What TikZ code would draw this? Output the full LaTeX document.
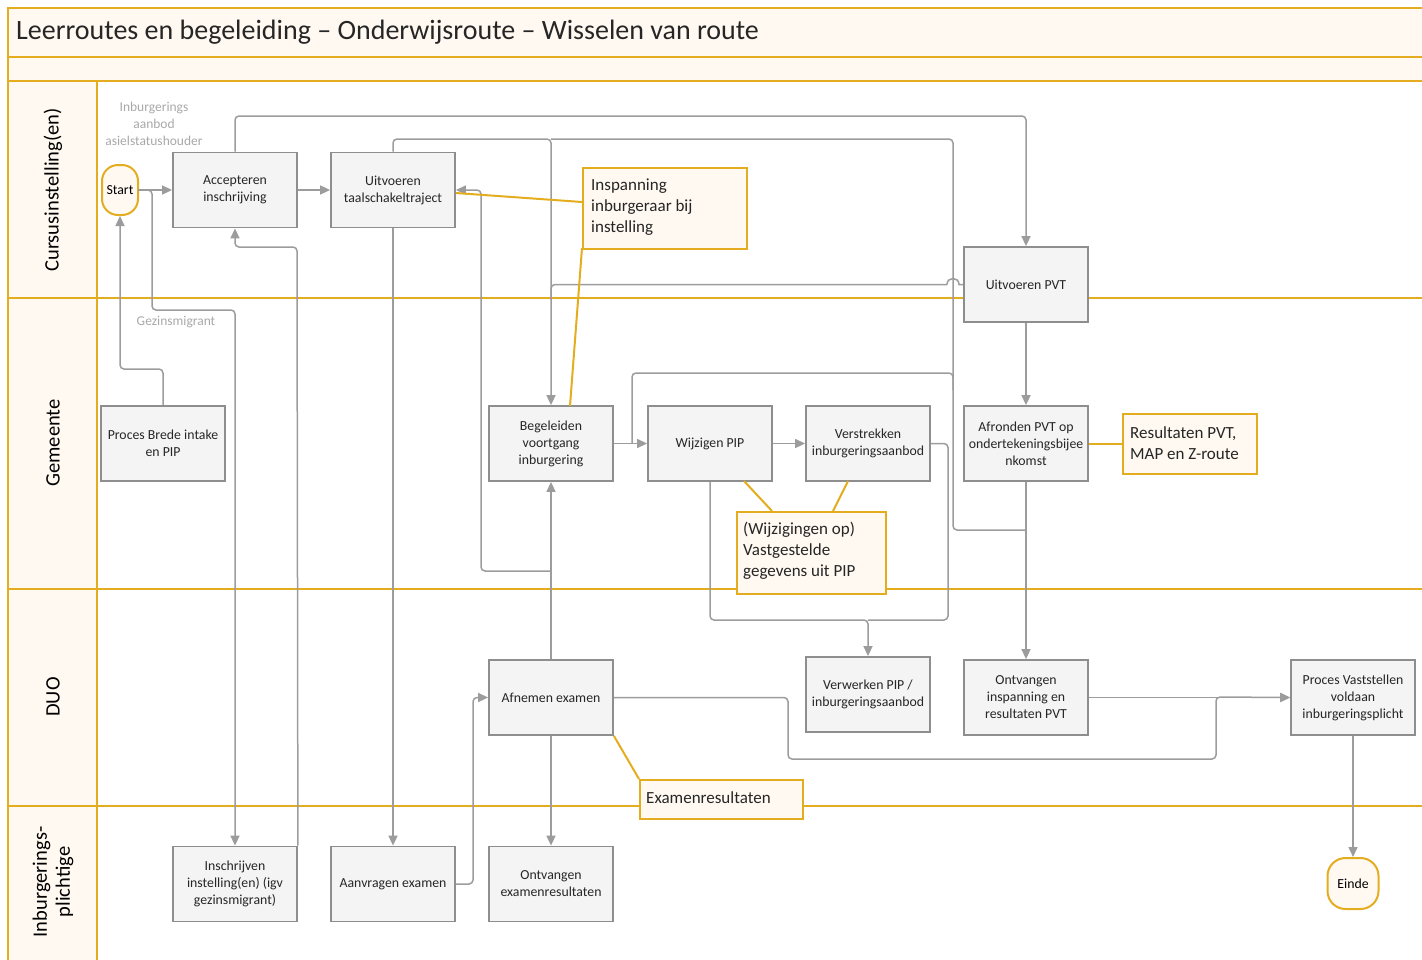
\documentclass[tikz,border=0pt]{standalone}
\usepackage{fontspec}
\setmainfont{Carlito}
\usetikzlibrary{arrows.meta}
\definecolor{gold}{HTML}{E3AD1F}
\definecolor{cream}{HTML}{FFF9F1}
\definecolor{boxfill}{HTML}{F4F4F4}
\definecolor{boxline}{HTML}{8E8E8E}
\definecolor{connc}{HTML}{9C9C9C}
\definecolor{lblc}{HTML}{A8A8A8}
\tikzset{
  proc/.style={draw=boxline, fill=boxfill, line width=1.8pt, minimum width=124pt, minimum height=75pt,
    inner sep=1pt, align=center, font=\fontsize{13.8}{17}\selectfont, text=black!85},
  note/.style={draw=gold, fill=cream, line width=2pt, inner sep=0pt, anchor=north west},
  notetext/.style={align=left, anchor=north west, font=\fontsize{17}{21}\selectfont, text=black!85, inner sep=0pt},
  term/.style={draw=gold, fill=cream, line width=2pt, rounded corners=16pt, align=center,
    font=\fontsize{13.8}{17}\selectfont, inner sep=0pt},
  conn/.style={draw=connc, line width=1.5pt, rounded corners=4pt},
  arr/.style={conn, -{Triangle[length=10pt,width=9pt]}},
  hl/.style={draw=gold, line width=2pt},
  lane/.style={draw=gold, line width=2.5pt},
  glabel/.style={text=lblc, align=center, font=\fontsize{13.5}{17}\selectfont, inner sep=0pt},
  lanelabel/.style={rotate=90, align=center, font=\fontsize{20.5}{23}\selectfont, inner sep=0pt}
}
\begin{document}
\begin{tikzpicture}[x=1pt,y=-1pt]
\useasboundingbox (0,0) rectangle (1422,959);
% ---------- swimlanes ----------
\fill[cream] (8,8) rectangle (1424,81);
\fill[cream] (8,81) rectangle (97,962);
\draw[lane] (1424,8) -- (8,8) -- (8,962);
\draw[lane] (8,57) -- (1424,57);
\draw[lane] (8,81) -- (1424,81);
\draw[lane] (97,81) -- (97,962);
\draw[lane] (8,298) -- (1424,298);
\draw[lane] (8,589) -- (1424,589);
\draw[lane] (8,806) -- (1424,806);
\node[anchor=west, inner sep=0pt, font=\fontsize{28}{32}\selectfont, text=black!85] (title) at (16,32) {Leerroutes en begeleiding – Onderwijsroute – Wisselen van route};
\node[lanelabel] (l1) at (53,190) {Cursusinstelling(en)};
\node[lanelabel] (l2) at (53,443) {Gemeente};
\node[lanelabel] (l3) at (53,697) {DUO};
\node[lanelabel] (l4) at (53,882) {Inburgerings-\\plichtige};
% ---------- nodes ----------
\node[term, minimum width=36pt, minimum height=50pt] (start) at (120,190) {Start};
\node[proc] (acc) at (235,190) {Accepteren\\inschrijving};
\node[proc] (taal) at (393,190) {Uitvoeren\\taalschakeltraject};
\node[proc] (pvt) at (1026,284.5) {Uitvoeren PVT};
\node[proc] (brede) at (163,443.5) {Proces Brede intake\\en PIP};
\node[proc] (beg) at (551,443.5) {Begeleiden\\voortgang\\inburgering};
\node[proc] (wpip) at (710,443.5) {Wijzigen PIP};
\node[proc] (verstr) at (868,443.5) {Verstrekken\\inburgeringsaanbod};
\node[proc] (afr) at (1026,443.5) {Afronden PVT op\\ondertekeningsbijee\\nkomst};
\node[proc] (afn) at (551,697.5) {Afnemen examen};
\node[proc] (verw) at (868,694.5) {Verwerken PIP /\\inburgeringsaanbod};
\node[proc] (ontvi) at (1026,697.5) {Ontvangen\\inspanning en\\resultaten PVT};
\node[proc] (vast) at (1353,697.5) {Proces Vaststellen\\voldaan\\inburgeringsplicht};
\node[proc] (inschr) at (235,884) {Inschrijven\\instelling(en) (igv\\gezinsmigrant)};
\node[proc] (aanvr) at (393,884) {Aanvragen examen};
\node[proc] (ontve) at (551,884) {Ontvangen\\examenresultaten};
\node[term, minimum width=51pt, minimum height=51pt, rounded corners=18pt] (einde) at (1353,883.5) {Einde};
% ---------- gray connectors ----------
\coordinate (j1) at (551,139);
\coordinate (j2) at (1026,530);
\coordinate (j3) at (551,571);
\coordinate (j4) at (868,620);
\coordinate (j5) at (632,443);
\coordinate (j6) at (1216,697);
\coordinate (j7) at (551,300);
\draw[arr] (start.east) -- (acc.west);
\draw[arr] (acc.east) -- (taal.west);
\draw[arr] (acc.north) -- (235,116) -- (1026,116) -- (pvt.north);
\draw[arr] (taal.north) -- (393,139) -- (j1) -- (beg.north);
\draw[conn] (j1) -- (953,139) -- (953,530) -- (j2);
\draw[arr] (138,190) -- (152,190) -- (152,310) -- (235,310) -- (inschr.north);
\draw[arr] (brede.north) -- (163,369) -- (120,369) -- (start.south);
\draw[arr] (inschr.north east) -- (297,247) -- (235,247) -- (acc.south);
\draw[arr] (taal.south) -- (aanvr.north);
\draw[arr] (aanvr.east) -- (473,884) -- (473,697.5) -- (afn.west);
\draw[arr] (afn.north) -- (beg.south);
\draw[arr] (j3) -- (481,571) -- (481,190) -- (taal.east);
\draw[arr] (afn.south) -- (ontve.north);
\draw[arr] (afn.east) -- (788,697.5) -- (788,759) -- (1216,759) -- (j6) -- (vast.west);
\draw[arr] (ontvi.east) -- (vast.west);
\draw[arr] (vast.south) -- (einde.north);
\draw[arr] (beg.east) -- (wpip.west);
\draw[conn] (j5) -- (632,373) -- (953,373) -- (953,390);
\draw[arr] (wpip.east) -- (verstr.west);
\draw[arr] (wpip.south) -- (710,620) -- (j4) -- (verw.north);
\draw[conn] (verstr.east) -- (948,443.5) -- (948,620) -- (j4);
\draw[arr] (pvt.south) -- (afr.north);
\draw[arr] (afr.south) -- (ontvi.north);
\draw[draw=connc, line width=1.5pt] (pvt.west) -- (959,284.5) .. controls (959,276.5) and (947,276.5) .. (947,284.5);
\draw[conn] (947,284.5) -- (551,284.5) -- (j7);
% ---------- gray labels ----------
\node[glabel] (lab1) at (154,124) {Inburgerings\\aanbod\\asielstatushouder};
\node[glabel] (lab2) at (176,322) {Gezinsmigrant};
% ---------- annotation boxes ----------
\draw[hl] (582,202) -- (taal.east |- 0,193);
\draw[hl] (582,248) -- (570,406);
\draw[hl] (744,481) -- (772,511);
\draw[hl] (848,481) -- (833,511);
\draw[hl] (afr.east) -- (1122,443.5);
\draw[hl] (afn.south east) -- (639,779);
\node[note, minimum width=164pt, minimum height=81pt] (n1) at (582,167) {};
\node[notetext] (n1t) at (591,179) {Inspanning\\inburgeraar bij\\instelling};
\node[note, minimum width=149pt, minimum height=82pt] (n2) at (736,511) {};
\node[notetext] (n2t) at (743,522) {(Wijzigingen op)\\Vastgestelde\\gegevens uit PIP};
\node[note, minimum width=134pt, minimum height=60pt] (n3) at (1122,413) {};
\node[notetext] (n3t) at (1130,426) {Resultaten PVT,\\MAP en Z-route};
\node[note, minimum width=163pt, minimum height=39pt] (n4) at (639,779) {};
\node[notetext] (n4t) at (646,791) {Examenresultaten};
\end{tikzpicture}
\end{document}
